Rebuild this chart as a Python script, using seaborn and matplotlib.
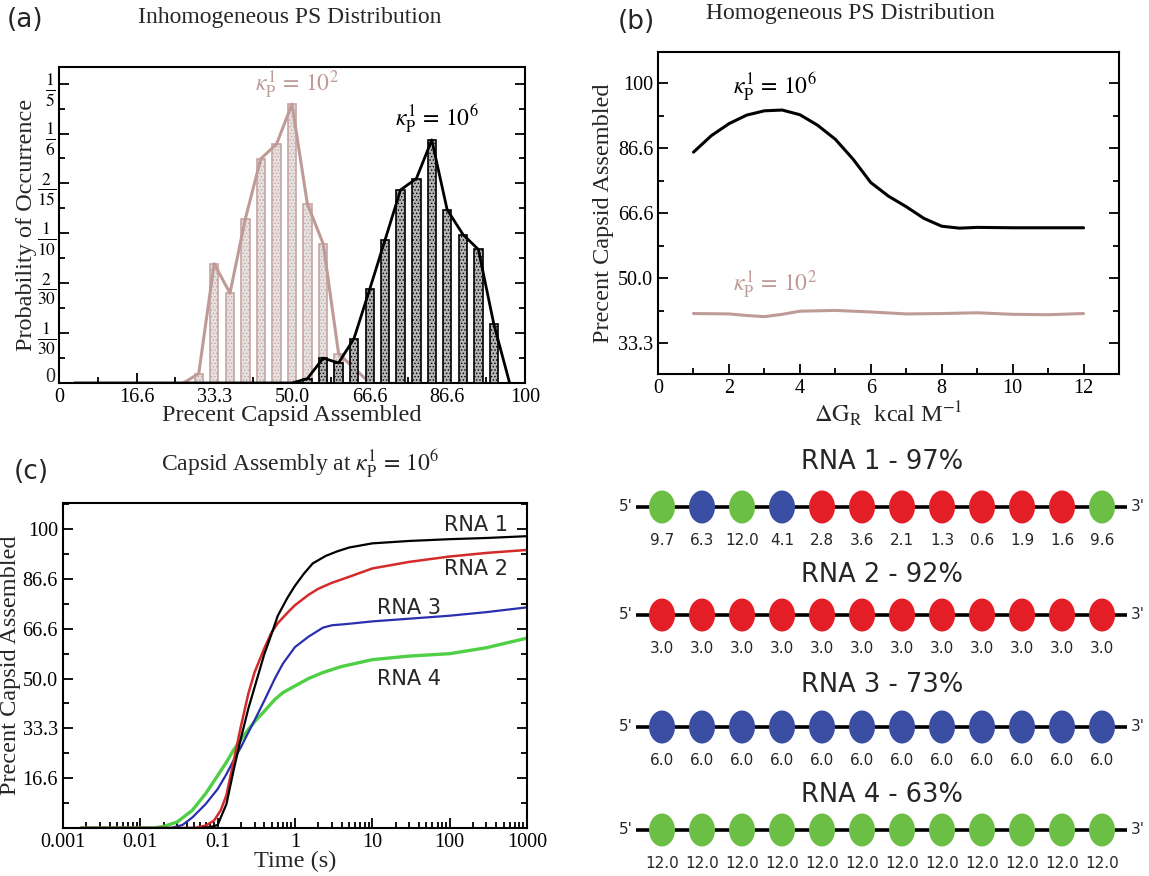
import matplotlib
matplotlib.use('Agg')
import matplotlib.pyplot as plt
from matplotlib.patches import Ellipse
from matplotlib.ticker import AutoMinorLocator, LogLocator, NullFormatter
import pandas as pd
import seaborn as sns

# (a) Inhomogeneous PS distribution: histogram of percent assembled
pct_k2 = [26.7, 30.0, 33.3, 36.7, 40.0, 43.3, 46.7, 50.0, 53.3, 56.7, 60.0, 66.7]
prob_k2 = [0.0, 0.0063, 0.0797, 0.0600, 0.1097, 0.1497, 0.1597, 0.1863, 0.1197, 0.0930, 0.0197, 0.0]
pct_k6 = [3.3, 50.0, 53.3, 56.7, 60.0, 63.3, 66.7, 70.0, 73.3, 76.7, 80.0, 83.3, 86.7, 90.0, 93.3, 96.7]
prob_k6 = [0.0, 0.0, 0.0029, 0.0166, 0.0134, 0.0296, 0.0628, 0.0958, 0.1290, 0.1366, 0.1624,
           0.1158, 0.0992, 0.0892, 0.0396, 0.0]
xticks_a = ['0', '16.6', '33.3', '50.0', '66.6', '86.6', '100']
yticks_a = ['0', r'$\frac{1}{30}$', r'$\frac{2}{30}$', r'$\frac{1}{10}$', r'$\frac{2}{15}$',
            r'$\frac{1}{6}$', r'$\frac{1}{5}$']

# (b) Homogeneous PS distribution
dg_k6 = [1, 1.5, 2, 2.5, 3, 3.5, 4, 4.5, 5, 5.5, 6, 6.5, 7, 7.5, 8, 8.5, 9, 10, 11, 12]
cap_k6 = [82.3, 86.5, 89.6, 91.8, 92.9, 93.1, 91.9, 89.2, 85.6, 80.5, 74.5, 71.0, 68.3, 65.3,
          63.3, 62.8, 63.0, 62.9, 62.9, 62.9]
dg_k2 = [1, 2, 2.5, 3, 3.5, 4, 5, 6, 7, 8, 9, 10, 11, 12]
cap_k2 = [40.9, 40.8, 40.4, 40.1, 40.7, 41.5, 41.7, 41.3, 40.8, 40.9, 41.1, 40.7, 40.6, 40.9]
pct_labels = ['33.3', '50.0', '66.6', '86.6', '100']

# (c) assembly kinetics
t_rna1 = [0.0017, 0.06, 0.08, 0.1, 0.13, 0.16, 0.2, 0.25, 0.3, 0.4, 0.5, 0.6, 0.8, 1.0, 1.3,
          1.7, 2.5, 3.5, 5, 10, 30, 100, 300, 1000]
y_rna1 = [0, 0, 0.3, 1, 8, 19, 30, 40, 47, 58, 65, 71, 77, 81, 85, 88.5, 91, 92.5, 93.8, 95.2,
          96, 96.6, 97, 97.6]
t_rna2 = [0.0017, 0.05, 0.07, 0.09, 0.11, 0.13, 0.16, 0.2, 0.25, 0.3, 0.4, 0.5, 0.6, 0.8, 1.0,
          1.5, 2, 3, 5, 10, 30, 100, 300, 1000]
y_rna2 = [0, 0, 0.8, 2.5, 6, 11, 22, 34, 45, 52, 60, 65.5, 68.5, 72, 74.5, 78, 80, 82, 84, 86.8,
          89, 90.8, 92, 93]
t_rna3 = [0.0017, 0.025, 0.035, 0.047, 0.07, 0.1, 0.13, 0.16, 0.2, 0.25, 0.3, 0.4, 0.55, 0.7,
          1.0, 1.5, 2.3, 3, 5, 10, 30, 100, 300, 1000]
y_rna3 = [0, 0, 1, 3.5, 8, 13, 18, 22.5, 27, 32, 36, 42.5, 50, 55, 60.5, 64, 67, 67.8, 68.3,
          69.1, 70, 71, 72.2, 73.8]
t_rna4 = [0.0017, 0.015, 0.02, 0.03, 0.047, 0.07, 0.1, 0.13, 0.16, 0.2, 0.25, 0.3, 0.4, 0.55,
          0.7, 1.0, 1.5, 2.3, 4, 10, 30, 100, 300, 1000]
y_rna4 = [0, 0, 0.5, 2, 5.9, 11.5, 17.5, 22, 26, 29.5, 33, 35.5, 39, 43, 45.3, 47.5, 50, 52, 54,
          56.3, 57.5, 58.3, 60.3, 63.5]
rna_colors = {'RNA 1': 'black', 'RNA 2': '#d42a2a', 'RNA 3': '#2a2fb0', 'RNA 4': '#4fcf45'}

# (d) packaging signal free energies per RNA
rna_titles = ['RNA 1 - 97%', 'RNA 2 - 92%', 'RNA 3 - 73%', 'RNA 4 - 63%']
dg_rna1 = [9.7, 6.3, 12.0, 4.1, 2.8, 3.6, 2.1, 1.3, 0.6, 1.9, 1.6, 9.6]
dg_rna2 = [3.0, 3.0, 3.0, 3.0, 3.0, 3.0, 3.0, 3.0, 3.0, 3.0, 3.0, 3.0]
dg_rna3 = [6.0, 6.0, 6.0, 6.0, 6.0, 6.0, 6.0, 6.0, 6.0, 6.0, 6.0, 6.0]
dg_rna4 = [12.0, 12.0, 12.0, 12.0, 12.0, 12.0, 12.0, 12.0, 12.0, 12.0, 12.0, 12.0]

sns.set_style('ticks')
plt.rcParams['font.family'] = ['Liberation Serif', 'DejaVu Serif']
plt.rcParams['mathtext.fontset'] = 'stix'
plt.rcParams['axes.linewidth'] = 1.5
plt.rcParams['hatch.linewidth'] = 0.6

ROSY = '#bf9b98'
SANS = ['DejaVu Sans']
K2 = r'$\kappa_{\mathrm{P}}^{1}\,=\,10^{2}$'
K6 = r'$\kappa_{\mathrm{P}}^{1}\,=\,10^{6}$'


def style_axes(ax):
    ax.tick_params(which='both', direction='in', right=True, top=False, width=1.3,
                   colors='black', labelsize=14.5)
    ax.tick_params(which='major', length=7)
    ax.tick_params(which='minor', length=4)
    for s in ax.spines.values():
        s.set_color('black')


fig = plt.figure(figsize=(11.49, 8.76), dpi=100)

# ---------------- (a)
ax = fig.add_axes([0.0513, 0.5628, 0.4056, 0.3607])
k2 = pd.DataFrame({'pct': pct_k2, 'prob': prob_k2})
k6 = pd.DataFrame({'pct': pct_k6, 'prob': prob_k6})
b2 = k2[k2.prob > 0]
b6 = k6[k6.prob > 0]
ax.bar(b2.pct, b2.prob, width=1.8, color='#e6e2e2', edgecolor='#c6a5a3', hatch='.....',
       linewidth=1.2, zorder=2)
sns.lineplot(data=k2, x='pct', y='prob', color=ROSY, lw=2.2, ax=ax, zorder=3)
ax.bar(b6.pct, b6.prob, width=1.8, color='#b4b4b4', edgecolor='black', hatch='.....',
       linewidth=1.2, zorder=4)
sns.lineplot(data=k6, x='pct', y='prob', color='black', lw=2.0, ax=ax, zorder=5)
ax.set_xlim(0, 100)
ax.set_ylim(0, 0.2111)
ax.set_xticks([0, 100 / 6, 200 / 6, 50, 400 / 6, 500 / 6, 100])
ax.set_xticklabels(xticks_a)
ax.set_yticks([0, 1 / 30, 2 / 30, 3 / 30, 4 / 30, 5 / 30, 6 / 30])
ax.set_yticklabels([''] + yticks_a[1:])
ax.xaxis.set_minor_locator(AutoMinorLocator(2))
ax.yaxis.set_minor_locator(AutoMinorLocator(2))
style_axes(ax)
ax.tick_params(axis='y', labelsize=18, pad=2)
# the zero of the y axis sits a little above the corner, clear of the x-axis zero
ax.text(-0.008, 0.016, yticks_a[0], transform=ax.transAxes, fontsize=14.5, ha='right', va='center')
ax.set_xlabel('Precent Capsid Assembled', fontsize=17.5, labelpad=-1)
ax.set_ylabel('Probability of Occurrence', fontsize=17.5, labelpad=0)
ax.text(51, 0.199, K2, color=ROSY, fontsize=17, ha='center', va='center')
ax.text(81, 0.177, K6, color='black', fontsize=17, ha='center', va='center')
fig.text(7 / 1149, 1 - 20 / 876, '(a)', family=SANS, fontsize=19, ha='left', va='center')
fig.text(290 / 1149, 1 - 18 / 876, 'Inhomogeneous PS Distribution', fontsize=17,
         ha='center', va='center')

# ---------------- (b)
ax = fig.add_axes([0.5727, 0.5731, 0.4012, 0.3676])
sns.lineplot(x=dg_k6, y=cap_k6, color='black', lw=2.2, ax=ax)
sns.lineplot(x=dg_k2, y=cap_k2, color=ROSY, lw=2.2, ax=ax)
ax.set_xlim(0, 13)
ax.set_ylim(25.4, 108)
ax.set_xticks([0, 2, 4, 6, 8, 10, 12])
ax.set_yticks([100 / 3, 50, 200 / 3, 250 / 3, 100])
ax.set_yticklabels(pct_labels)
ax.xaxis.set_minor_locator(AutoMinorLocator(2))
ax.yaxis.set_minor_locator(AutoMinorLocator(2))
style_axes(ax)
ax.set_xlabel(r'$\Delta \mathrm{G}_{\mathrm{R}}$  kcal M$^{-1}$', fontsize=17.5, labelpad=1)
ax.set_ylabel('Precent Capsid Assembled', fontsize=17.5, labelpad=3)
ax.text(3.3, 99.2, K6, color='black', fontsize=17, ha='center', va='center')
ax.text(3.3, 48.3, K2, color=ROSY, fontsize=17, ha='center', va='center')
fig.text(618 / 1149, 1 - 22 / 876, '(b)', family=SANS, fontsize=19, ha='left', va='center')
fig.text(850 / 1149, 1 - 14 / 876, 'Homogeneous PS Distribution', fontsize=17,
         ha='center', va='center')

# ---------------- (c)
ax = fig.add_axes([0.0548, 0.0548, 0.4038, 0.3710])
kin = pd.concat([
    pd.DataFrame({'t': t_rna1, 'pct': y_rna1, 'rna': 'RNA 1'}),
    pd.DataFrame({'t': t_rna2, 'pct': y_rna2, 'rna': 'RNA 2'}),
    pd.DataFrame({'t': t_rna3, 'pct': y_rna3, 'rna': 'RNA 3'}),
    pd.DataFrame({'t': t_rna4, 'pct': y_rna4, 'rna': 'RNA 4'}),
])
ax.set_xscale('log')
for name, lw in [('RNA 4', 2.4), ('RNA 3', 1.6), ('RNA 2', 1.8), ('RNA 1', 1.6)]:
    sns.lineplot(data=kin[kin.rna == name], x='t', y='pct', color=rna_colors[name], lw=lw, ax=ax)
ax.set_xlim(0.001, 1000)
ax.set_ylim(0, 108.7)
ax.set_xticks([0.001, 0.01, 0.1, 1, 10, 100, 1000])
ax.set_xticklabels(['0.001', '0.01', '0.1', '1', '10', '100', '1000'])
ax.xaxis.set_minor_locator(LogLocator(base=10, subs=range(2, 10), numticks=20))
ax.xaxis.set_minor_formatter(NullFormatter())
ax.set_yticks([50 / 3, 100 / 3, 50, 200 / 3, 250 / 3, 100])
ax.set_yticklabels(['16.6', '33.3', '50.0', '66.6', '86.6', '100'])
ax.yaxis.set_minor_locator(AutoMinorLocator(2))
style_axes(ax)
ax.set_xlabel('Time (s)', fontsize=17.5, labelpad=-1)
ax.set_ylabel('Precent Capsid Assembled', fontsize=17.5, labelpad=1)
for name, tx, ty in [('RNA 1', 220, 101.5), ('RNA 2', 220, 86.7), ('RNA 3', 30, 73.7),
                     ('RNA 4', 30, 49.9)]:
    ax.text(tx, ty, name, family=SANS, fontsize=15, ha='center', va='center')
fig.text(14 / 1149, 1 - 472 / 876, '(c)', family=SANS, fontsize=19, ha='left', va='center')
fig.text(300 / 1149, 1 - 463 / 876, r'Capsid Assembly at ' + K6, fontsize=17,
         ha='center', va='center')

# ---------------- (d) RNA diagrams, drawn in pixel coordinates
ax = fig.add_axes([580 / 1149, 0, 569 / 1149, 436 / 876])
ax.set_xlim(580, 1149)
ax.set_ylim(876, 440)
ax.axis('off')


def ps_color(v):
    if v < 4:
        return '#e41e26'
    if v < 9:
        return '#3a4ea3'
    return '#6cbf45'


row_line = [507, 615, 727, 830]
row_title = [462, 575, 685, 795]
for title, dgs, ly, ty in zip(rna_titles, [dg_rna1, dg_rna2, dg_rna3, dg_rna4], row_line, row_title):
    ax.text(882, ty, title, family=SANS, fontsize=18.5, ha='center', va='center')
    ax.plot([636, 1127], [ly, ly], color='black', lw=2.6, solid_capstyle='butt', zorder=1)
    ax.text(633, ly, "5'", family=SANS, fontsize=11, ha='right', va='center')
    ax.text(1131, ly, "3'", family=SANS, fontsize=11, ha='left', va='center')
    for i, v in enumerate(dgs):
        cx = 662 + 40 * i
        ax.add_patch(Ellipse((cx, ly), 26, 33, facecolor=ps_color(v), edgecolor='none', zorder=2))
        ax.text(cx, ly + 34, f'{v:.1f}', family=SANS, fontsize=11, ha='center', va='center')

fig.savefig('out.png', dpi=100)
